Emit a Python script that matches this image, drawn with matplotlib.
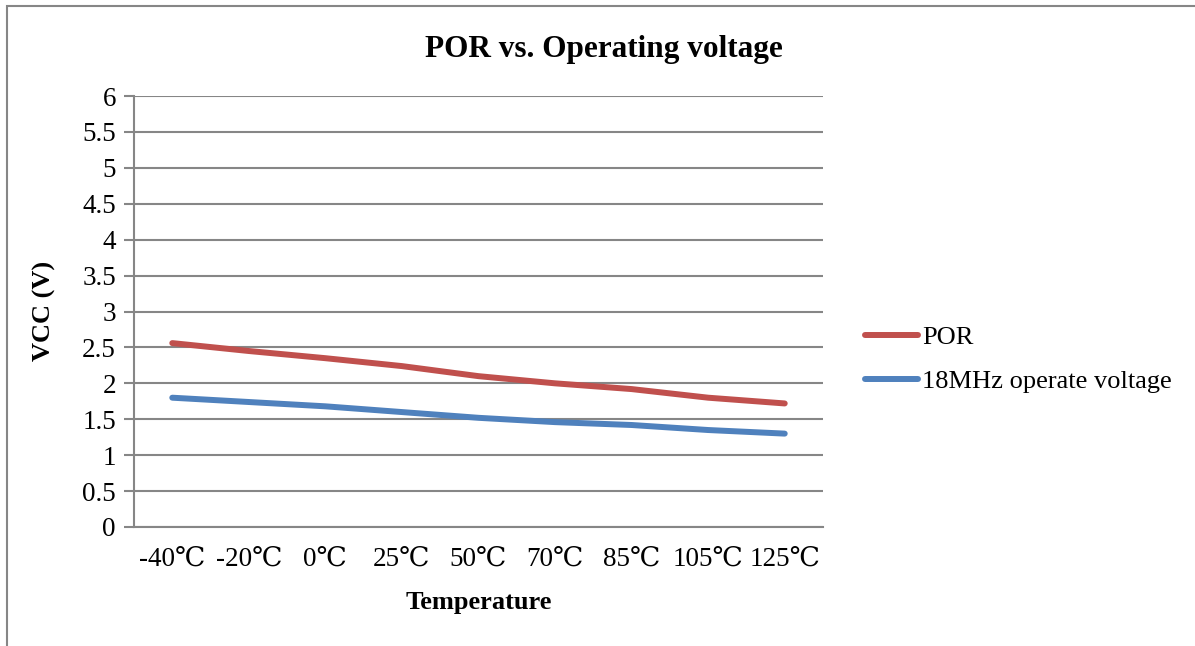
import numpy as np
import matplotlib.pyplot as plt
from matplotlib.patches import Rectangle

# Data
temps = ['-40℃', '-20℃', '0℃', '25℃', '50℃', '70℃', '85℃', '105℃', '125℃']
por = [2.56, 2.45, 2.35, 2.24, 2.10, 2.00, 1.92, 1.80, 1.72]
op_18mhz = [1.80, 1.74, 1.68, 1.60, 1.52, 1.46, 1.42, 1.35, 1.30]
y_ticks = [0, 0.5, 1, 1.5, 2, 2.5, 3, 3.5, 4, 4.5, 5, 5.5, 6]

plt.rcParams['font.family'] = ['Liberation Serif', 'DejaVu Serif']

fig = plt.figure(figsize=(11.95, 6.46), dpi=100)
# outer chart border
fig.patches.append(Rectangle((7 / 1195, -0.1), 1.2, 1 - 6 / 646 + 0.1,
                             transform=fig.transFigure, fill=False,
                             edgecolor='#868686', linewidth=1.5))

ax = fig.add_axes([134 / 1195, 1 - 527 / 646, 689 / 1195, 431 / 646])
x = np.arange(len(temps))
ax.plot(x, por, color='#C0504D', linewidth=4.3, solid_capstyle='round', label='POR')
ax.plot(x, op_18mhz, color='#4F81BD', linewidth=4.3, solid_capstyle='round',
        label='18MHz operate voltage')

ax.set_xlim(-0.5, len(temps) - 0.5)
ax.set_ylim(0, 6)
ax.set_yticks(y_ticks)
ax.set_yticklabels([f'{v:g}' for v in y_ticks])
ax.set_xticks(x)
ax.set_xticklabels(temps)
ax.yaxis.grid(True, color='#868686', linewidth=1.5)
ax.set_axisbelow(True)
for s in ['top', 'right']:
    ax.spines[s].set_visible(False)
for s in ['left', 'bottom']:
    ax.spines[s].set_color('#868686')
    ax.spines[s].set_linewidth(1.5)
ax.tick_params(axis='y', length=7, width=1.5, color='#868686', labelsize=19.5, pad=6)
ax.tick_params(axis='x', length=0, labelsize=19.5, pad=14)

fig.text(604 / 1195, 1 - 50 / 646, 'POR vs. Operating voltage', fontsize=22.5,
         fontweight='bold', ha='center', va='center')
ax.set_xlabel('Temperature', fontsize=19, fontweight='bold')
ax.set_ylabel('VCC (V)', fontsize=19, fontweight='bold')
ax.xaxis.set_label_coords(0.5, (527 - 602) / 431)
ax.yaxis.set_label_coords((44 - 134) / 689, (527 - 311) / 431)
ax.xaxis.label.set_va('center')
ax.yaxis.label.set_va('center')

ax.legend(loc='center left', bbox_to_anchor=((865 - 134) / 689, (527 - 359.5) / 431),
          frameon=False, fontsize=19, handlelength=2.0, handletextpad=0.15,
          labelspacing=0.78, borderpad=0, borderaxespad=0)

fig.savefig('out.png', dpi=100)
